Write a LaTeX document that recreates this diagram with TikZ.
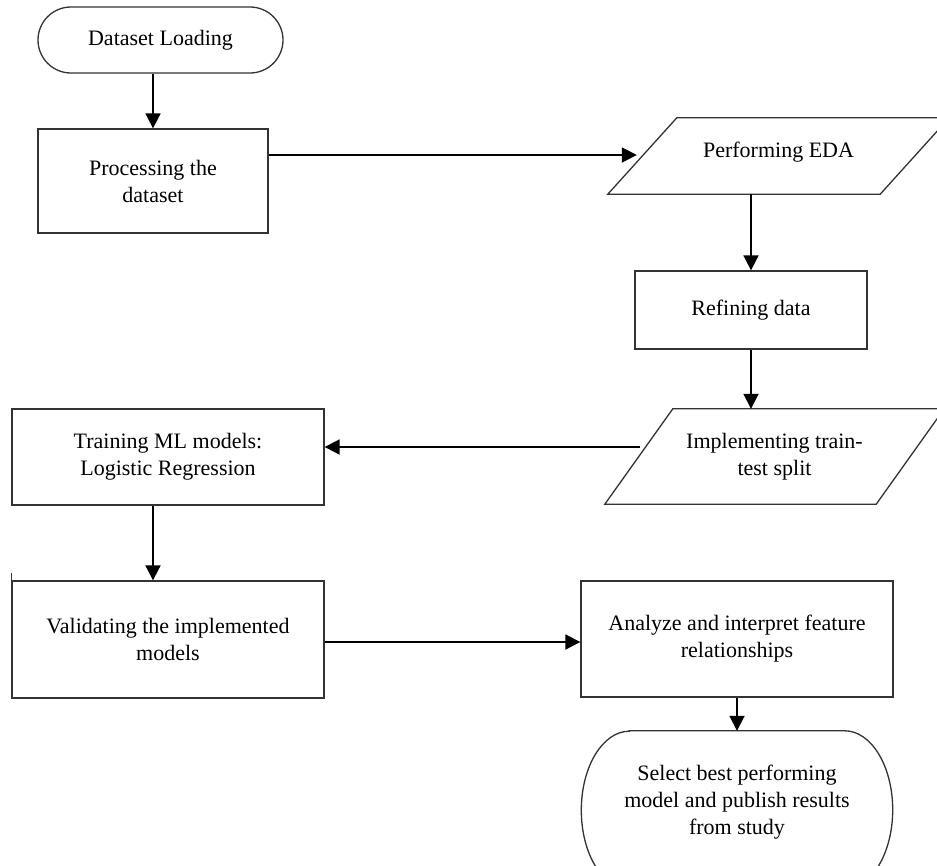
\documentclass[tikz,border=0pt]{standalone}
\usepackage{fontspec}
\setmainfont{Liberation Serif}
\usetikzlibrary{arrows.meta,calc}
\begin{document}
\begin{tikzpicture}[x=1pt,y=-1pt,
  txt/.style={font=\fontsize{22pt}{27pt}\selectfont, align=center, inner sep=0pt},
  boxline/.style={draw=black!80, line width=1.3pt},
  arr/.style={draw=black, line width=1.8pt, -{Triangle[length=15pt,width=15pt]}}]
\fill[white] (0,0) rectangle (937,865);
\useasboundingbox (0,0) rectangle (937,865);

% nodes
\node[txt, boxline, rounded corners=33pt, minimum width=245pt, minimum height=66pt] (dl) at (160.5,40) {Dataset Loading};
\node[txt, boxline, minimum width=230pt, minimum height=104pt] (proc) at (153,181) {Processing the\\dataset};
\node[txt, minimum width=341pt, minimum height=76pt] (eda) at (778.5,156) {\raisebox{13pt}{Performing EDA}};
\draw[boxline] (eda.south west) -- ([xshift=-69pt]eda.south east) -- (eda.north east) -- ([xshift=69pt]eda.north west) -- cycle;
\node[txt, boxline, minimum width=232pt, minimum height=78pt] (ref) at (751,310) {Refining data};
\node[txt, minimum width=339pt, minimum height=95pt] (tts) at (774.5,456.5) {Implementing train-\\test split};
\draw[boxline] (tts.south west) -- ([xshift=-68pt]tts.south east) -- (tts.north east) -- ([xshift=68pt]tts.north west) -- cycle;
\node[txt, boxline, minimum width=312pt, minimum height=96pt] (trn) at (168,457) {Training ML models:\\Logistic Regression};
\node[txt, boxline, minimum width=312pt, minimum height=117pt] (val) at (168,639.5) {Validating the implemented\\models};
\node[txt, boxline, minimum width=312pt, minimum height=116pt] (ana) at (737,639) {Analyze and interpret feature\\relationships};
\node[txt, minimum width=311pt, minimum height=158pt] (sel) at (737,802) {Select best performing\\model and publish results\\from study};
\draw[boxline] ([xshift=48pt,yshift=-8pt]sel.north west) -- ([xshift=-48pt,yshift=-8pt]sel.north east)
  arc[start angle=90,end angle=-90,x radius=48pt,y radius=79pt]
  -- ([xshift=48pt,yshift=-8pt]sel.south west)
  arc[start angle=270,end angle=90,x radius=48pt,y radius=79pt] -- cycle;
% small stub at top-left of validating box
\draw[boxline] (val.north west) -- ++(0,-7);

% connectors
\draw[arr] (dl.south -| proc.north) -- (proc.north);
\coordinate (p2) at ($(proc.east)+(0,-26)$);
\draw[arr, shorten >=-29pt] (p2) -- (p2 -| eda.west);
\draw[arr] (eda.south -| ref.north) -- (ref.north);
\draw[arr] (ref.south) -- (ref.south |- tts.north);
\coordinate (t5) at ($(tts.west)+(0,-9.5)$);
\draw[arr, shorten <=-35pt] (t5) -- (t5 -| trn.east);
\draw[arr] (trn.south -| proc.north) -- (val.north -| proc.north);
\coordinate (v7) at ($(val.east)+(0,2.5)$);
\draw[arr] (v7) -- (v7 -| ana.west);
\draw[arr] (ana.south) -- ($(sel.north)+(0,8)$);
\end{tikzpicture}
\end{document}
